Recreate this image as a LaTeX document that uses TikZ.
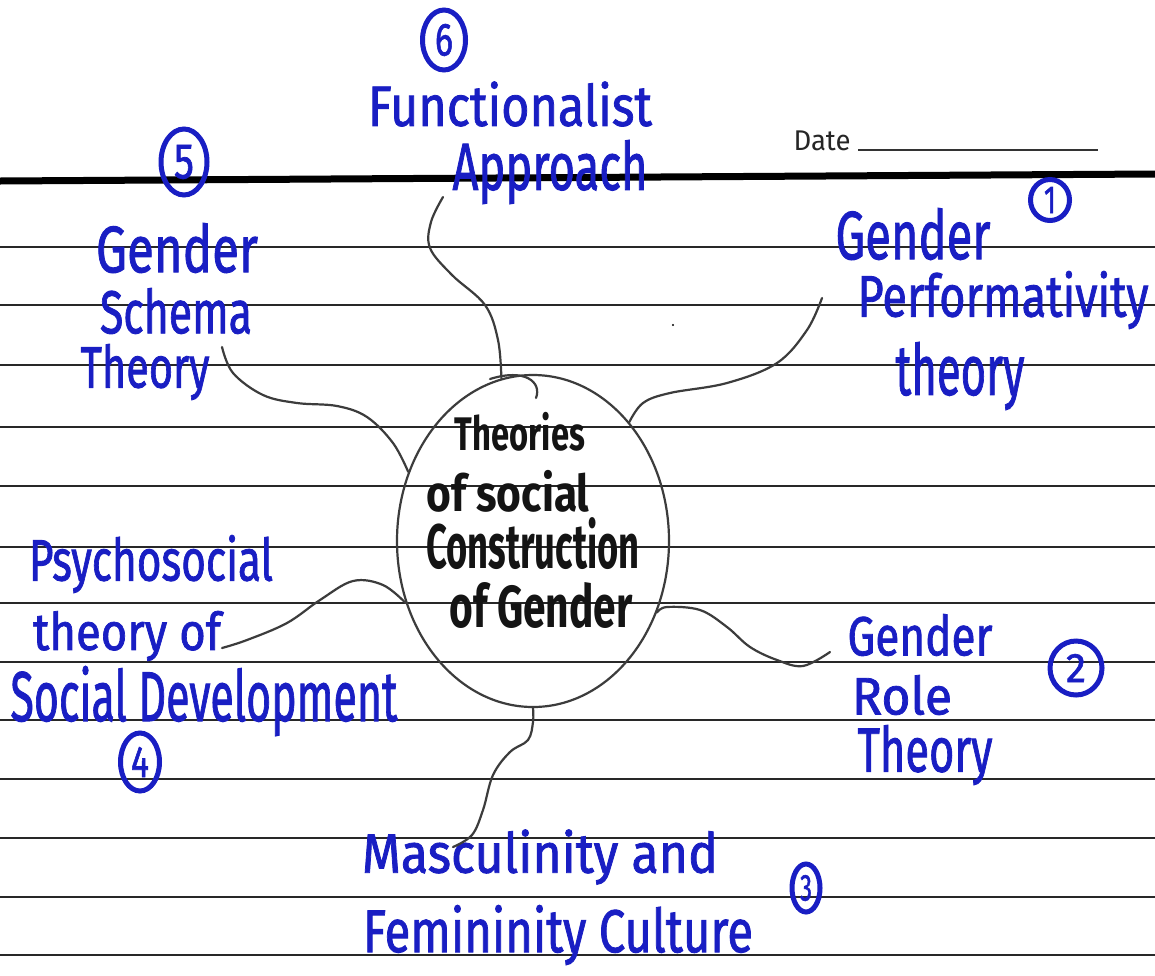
\documentclass[tikz,border=0pt]{standalone}
\usepackage{fontspec}
\setmainfont{Fira Sans}
\newfontfamily\handfont[FakeBold=1.5]{Fira Sans}
\usepackage{graphicx}
\usetikzlibrary{shapes.geometric}
\newdimen\pxu \pxu=0.5pt
\newcommand\fb[3]{\resizebox*{#1\pxu}{#2\pxu}{#3}}
\definecolor{ink}{RGB}{25,30,195}
\definecolor{marker}{RGB}{20,20,20}
\definecolor{pencil}{RGB}{60,60,60}
\definecolor{ruling}{RGB}{40,40,40}
\tikzset{
  ruleline/.style={draw=ruling, line width=1pt},
  topline/.style={draw=black, line width=3.5pt},
  hand/.style={text=ink, inner sep=0pt, font=\handfont},
  core/.style={text=marker, inner sep=0pt, font=\bfseries},
  numc/.style={ellipse, draw=ink, line width=2.5pt, inner sep=0pt, text=ink, font=\handfont},
  conn/.style={draw=pencil, line width=1.1pt, line cap=round},
  hub/.style={ellipse, draw=pencil, line width=1.1pt, minimum width=136pt, minimum height=166pt, inner sep=0pt},
}
\begin{document}
\begin{tikzpicture}[x=0.5pt,y=-0.5pt]
\useasboundingbox (0,0) rectangle (1155,975);
\fill[white] (0,0) rectangle (1155,975);
% ruled paper
\draw[topline] (0,181) -- (1155,174);
\foreach \yy in {247,305,365,427,486,547,603,662,720,779,838,897,955}
  \draw[ruleline] (0,\yy) -- (1155,\yy);
% date field
\node[inner sep=0pt, text=black!85] (dt) at (822,141) {\fb{57}{20}{Date}};
\draw[draw=black!80, line width=0.8pt] (858,150) -- (1098,150);
% hub
\node[hub] (c) at (533,541) {};
\draw[conn] (490,379) .. controls (525,368) and (542,382) .. (536,398);
\node[core] (t1) at (520,432) {\fb{130}{39}{Theories}};
\node[core] (t2) at (508,491) {\fb{163}{42}{of social}};
\node[core] (t3) at (533,544) {\fb{213}{52}{Construction}};
\node[core] (t4) at (541,605) {\fb{183}{46}{of Gender}};
% labels
\node[hand] (lF1) at (510,104) {\fb{284}{45}{Functionalist}};
\node[hand] (lF2) at (550,172) {\fb{195}{64}{Approach}};
\node[hand] (lP1) at (913,234) {\fb{155}{52}{Gender}};
\node[hand] (lP2) at (1003,300) {\fb{291}{58}{Performativity}};
\node[hand] (lP3) at (960,376) {\fb{129}{68}{theory}};
\node[hand] (lS1) at (177,248) {\fb{162}{50}{Gender}};
\node[hand] (lS2) at (176,311) {\fb{152}{46}{Schema}};
\node[hand] (lS3) at (145,372) {\fb{129}{56}{Theory}};
\node[hand] (lY1) at (151,564) {\fb{244}{58}{Psychosocial}};
\node[hand] (lY2) at (127,636) {\fb{188}{50}{theory of}};
\node[hand] (lY3) at (204,701) {\fb{387}{70}{Social Development}};
\node[hand] (lR1) at (920,635) {\fb{145}{42}{Gender}};
\node[hand] (lR2) at (902,695) {\fb{100}{40}{Role}};
\node[hand] (lR3) at (925,755) {\fb{135}{60}{Theory}};
\node[hand] (lM1) at (540,857) {\fb{356}{55}{Masculinity and}};
\node[hand] (lM2) at (558,935) {\fb{390}{60}{Femininity Culture}};
% circled numbers
\node[numc, minimum width=21.5pt, minimum height=30pt] (n6) at (444,40) {\fb{18}{32}{6}};
\node[numc, minimum width=23pt, minimum height=33pt] (n5) at (184,162) {\fb{20}{34}{5}};
\node[numc, minimum width=19.5pt, minimum height=20.5pt] (n1) at (1050,200) {\fb{12}{26}{1}};
\node[numc, minimum width=19.5pt, minimum height=29pt] (n4) at (140,762) {\fb{18}{30}{4}};
\node[numc, minimum width=26pt, minimum height=27pt] (n2) at (1076,668) {\fb{20}{28}{2}};
\node[numc, minimum width=14pt, minimum height=24pt] (n3) at (806,888) {\fb{12}{26}{3}};
% connector free ends
\coordinate (fF) at (443,197);
\coordinate (fP) at (822,298);
\coordinate (fS) at (222,347);
\coordinate (fY) at (222,648);
\coordinate (fR) at (830,652);
\coordinate (fM) at (453,847);
% connectors
\draw[conn] plot[smooth, tension=0.6] coordinates {(fF) (431,222) (430,248) (452,275) (485,305) (498,340) (c.101)};
\draw[conn] plot[smooth, tension=0.6] coordinates {(fP) (807,330) (777,363) (727,383) (670,393) (643,403) (c.51)};
\draw[conn] plot[smooth, tension=0.6] coordinates {(fS) (233,373) (263,395) (297,403) (337,406) (367,417) (393,443) (c.151)};
\draw[conn] plot[smooth, tension=0.6] coordinates {(fY) (247,640) (287,623) (320,600) (353,581) (383,585) (c.206)};
\draw[conn] plot[smooth, tension=0.6] coordinates {(c.330) (667,607) (700,610) (727,627) (750,647) (777,660) (803,666) (fR)};
\draw[conn] plot[smooth, tension=0.6] coordinates {(c.270) (533,722) (528,740) (510,752) (493,775) (483,810) (472,835) (fM)};
% stray ink dot
\fill[black] (673,325) circle (1.2);
\end{tikzpicture}
\end{document}
